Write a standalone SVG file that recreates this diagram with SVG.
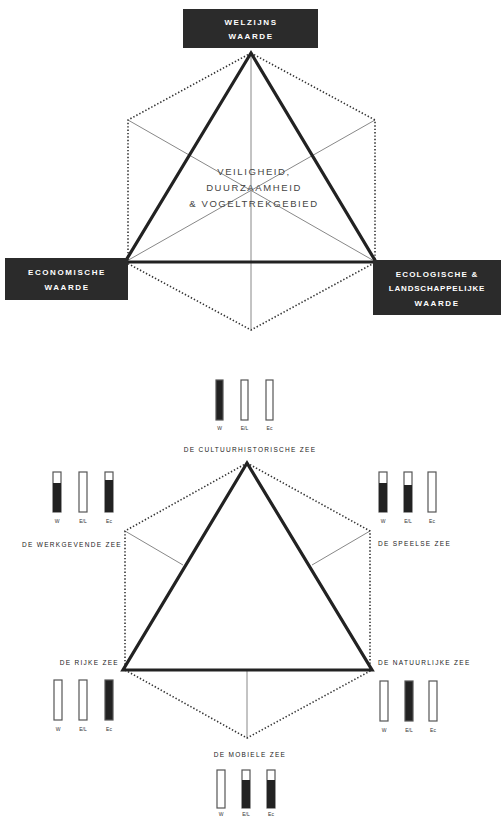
<svg xmlns="http://www.w3.org/2000/svg" width="501" height="818" viewBox="0 0 501 818">
<style>
.bg{fill:#fff}
.box{fill:#2b2b2b}
.bt{font-family:"Liberation Sans",Arial,sans-serif;font-size:8px;font-weight:bold;fill:#fff;letter-spacing:1.6px;text-anchor:middle}
.ct{font-family:"Liberation Sans",Arial,sans-serif;font-size:9.5px;fill:#444;letter-spacing:1.6px;text-anchor:middle}
.zt{font-family:"Liberation Sans",Arial,sans-serif;font-size:6.5px;fill:#222;letter-spacing:1.3px}
.bl{font-family:"Liberation Sans",Arial,sans-serif;font-size:5px;fill:#333;text-anchor:middle}
.thick{stroke:#222;stroke-width:3.2;fill:none;stroke-linejoin:miter}
.dot{stroke:#333;stroke-width:1.6;stroke-dasharray:1.4 2;fill:none}
.thin{stroke:#888;stroke-width:1;fill:none}
.bar{fill:#fff;stroke:#555;stroke-width:1.2}
.fill{fill:#222}
</style>
<rect class="bg" width="501" height="818"/>
<g id="connectors">
  <line class="thin" x1="251" y1="53" x2="251" y2="330"/>
  <line class="thin" x1="128" y1="120" x2="376" y2="262"/>
  <line class="thin" x1="375" y1="120" x2="125" y2="262"/>
  <path class="dot" d="M251 53 L128 120 L128 262 M251 53 L375 120 L375 262 M125 262 L251 330 L376 262"/>
  <path class="thick" d="M251 53 L376 262 L125 262 Z"/>
  <line class="thin" x1="247" y1="670" x2="247" y2="738"/>
  <line class="thin" x1="125" y1="531" x2="183" y2="565"/>
  <line class="thin" x1="370" y1="531" x2="312" y2="565"/>
  <path class="dot" d="M247 463 L125 531 L125 670 M247 463 L370 531 L370 670 M125 670 L247 738 L372 670"/>
  <path class="thick" d="M247 463 L372 670 L123 670 Z"/>
</g>
<g id="node-welzijn">
  <rect class="box" x="183" y="9" width="135" height="39"/>
  <text class="bt" x="251" y="25">WELZIJNS</text>
  <text class="bt" x="251" y="39">WAARDE</text>
</g>
<g id="node-economisch">
  <rect class="box" x="5" y="258" width="123" height="42"/>
  <text class="bt" x="67" y="275">ECONOMISCHE</text>
  <text class="bt" x="67" y="290">WAARDE</text>
</g>
<g id="node-ecologisch">
  <rect class="box" x="373" y="260" width="128" height="55"/>
  <text class="bt" x="437" y="277" style="letter-spacing:1.2px">ECOLOGISCHE &amp;</text>
  <text class="bt" x="437" y="291" style="letter-spacing:0.8px">LANDSCHAPPELIJKE</text>
  <text class="bt" x="437" y="306">WAARDE</text>
</g>
<g id="node-center">
  <text class="ct" x="254" y="175">VEILIGHEID,</text>
  <text class="ct" x="254" y="191">DUURZAAMHEID</text>
  <text class="ct" x="254" y="207">&amp; VOGELTREKGEBIED</text>
</g>
<g id="node-top-zee">
  <rect class="bar fill" x="216" y="380" width="7" height="40"/>
  <rect class="bar" x="241" y="380" width="7" height="40"/>
  <rect class="bar" x="266" y="380" width="7" height="40"/>
  <text class="bl" x="219.5" y="430">W</text>
  <text class="bl" x="244.5" y="430">E/L</text>
  <text class="bl" x="269.5" y="430">Ec</text>
  <text class="zt" x="250" y="452" text-anchor="middle">DE CULTUURHISTORISCHE ZEE</text>
</g>
<g id="node-left-zee">
  <rect class="bar" x="53" y="472" width="8" height="40"/>
  <rect class="fill" x="53" y="483" width="8" height="29"/>
  <rect class="bar" x="79" y="472" width="8" height="40"/>
  <rect class="bar" x="105" y="472" width="8" height="40"/>
  <rect class="fill" x="105" y="480" width="8" height="32"/>
  <text class="bl" x="57" y="523">W</text>
  <text class="bl" x="83" y="523">E/L</text>
  <text class="bl" x="109" y="523">Ec</text>
  <text class="zt" x="122" y="547" text-anchor="end">DE WERKGEVENDE ZEE</text>
</g>
<g id="node-right-zee">
  <rect class="bar" x="379" y="472" width="8" height="40"/>
  <rect class="fill" x="379" y="483" width="8" height="29"/>
  <rect class="bar" x="404" y="472" width="8" height="40"/>
  <rect class="fill" x="404" y="485" width="8" height="27"/>
  <rect class="bar" x="428" y="472" width="8" height="40"/>
  <text class="bl" x="383" y="523">W</text>
  <text class="bl" x="408" y="523">E/L</text>
  <text class="bl" x="432" y="523">Ec</text>
  <text class="zt" x="378" y="546">DE SPEELSE ZEE</text>
</g>
<g id="node-bl-zee">
  <rect class="bar" x="54" y="680" width="8" height="40"/>
  <rect class="bar" x="79" y="680" width="8" height="40"/>
  <rect class="bar fill" x="105" y="680" width="8" height="40"/>
  <text class="bl" x="58" y="731">W</text>
  <text class="bl" x="83" y="731">E/L</text>
  <text class="bl" x="109" y="731">Ec</text>
  <text class="zt" x="119" y="665" text-anchor="end">DE RIJKE ZEE</text>
</g>
<g id="node-br-zee">
  <rect class="bar" x="380" y="681" width="8" height="40"/>
  <rect class="bar fill" x="405" y="681" width="8" height="40"/>
  <rect class="bar" x="429" y="681" width="8" height="40"/>
  <text class="bl" x="384" y="732">W</text>
  <text class="bl" x="409" y="732">E/L</text>
  <text class="bl" x="433" y="732">Ec</text>
  <text class="zt" x="378" y="665">DE NATUURLIJKE ZEE</text>
</g>
<g id="node-bottom-zee">
  <text class="zt" x="250" y="757" text-anchor="middle">DE MOBIELE ZEE</text>
  <rect class="bar" x="217" y="770" width="8" height="38"/>
  <rect class="bar" x="242" y="770" width="8" height="38"/>
  <rect class="fill" x="242" y="780" width="8" height="28"/>
  <rect class="bar" x="267" y="770" width="8" height="38"/>
  <rect class="fill" x="267" y="780" width="8" height="28"/>
  <text class="bl" x="221" y="816">W</text>
  <text class="bl" x="246" y="816">E/L</text>
  <text class="bl" x="271" y="816">Ec</text>
</g>
</svg>
